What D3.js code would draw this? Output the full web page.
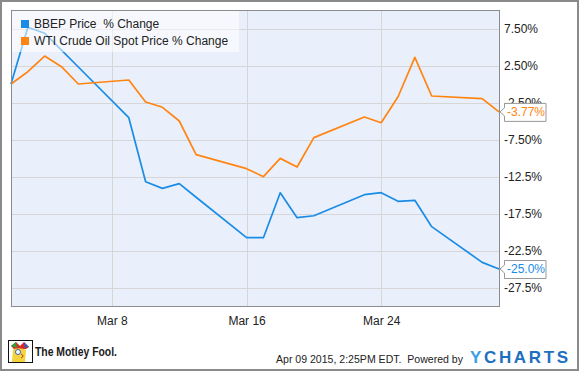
<!DOCTYPE html>
<html><head><meta charset="utf-8">
<script src="https://cdn.jsdelivr.net/npm/d3@7/dist/d3.min.js"></script>
<style>
html,body{margin:0;padding:0;background:#fff;}
svg{display:block;font-family:"Liberation Sans",Arial,sans-serif;}
</style></head>
<body><svg id="chart" width="580" height="371"></svg>
<script>
const dates = ["2015-03-02","2015-03-03","2015-03-04","2015-03-05","2015-03-06",
  "2015-03-09","2015-03-10","2015-03-11","2015-03-12","2015-03-13",
  "2015-03-16","2015-03-17","2015-03-18","2015-03-19","2015-03-20",
  "2015-03-23","2015-03-24","2015-03-25","2015-03-26","2015-03-27",
  "2015-03-30","2015-03-31"];
const bbep = [0, 7.66, 6.85, 4.58, 2.3, -4.55, -13.2, -14.1, -13.47, -15.3,
  -20.77, -20.77, -14.69, -18.07, -17.8, -14.96, -14.69, -15.86, -15.72, -19.28, -24.1, -25.0];
const wti = [0, 1.66, 3.78, 2.34, 0.0, 0.54, -2.43, -3.15, -5.0, -9.55,
  -11.44, -12.52, -10.05, -11.22, -7.25, -4.46, -5.23, -1.72, 3.6, -1.62, -1.98, -3.77];
const seriesNames = ["BBEP Price  % Change", "WTI Crude Oil Spot Price % Change"];
const seriesColors = ["#1a8ce6", "#ff8412"];
const yTicks = [7.5, 2.5, -2.5, -7.5, -12.5, -17.5, -22.5, -27.5];
const yTickLabels = ["7.50%", "2.50%", "-2.50%", "-7.50%", "-12.5%", "-17.5%", "-22.5%", "-27.5%"];
const xTickDates = ["2015-03-08", "2015-03-16", "2015-03-24"];
const xTickLabels = ["Mar 8", "Mar 16", "Mar 24"];
const endLabels = ["-25.0%", "-3.77%"];
const footerText = "Apr 09 2015, 2:25PM EDT.  Powered by";

const parse = d3.utcParse("%Y-%m-%d");
const svg = d3.select("#chart");
const L = 11, R = 499, T = 10, B = 306;

const x = d3.scaleUtc().domain([parse(dates[0]), parse(dates[dates.length-1])]).range([L, R]);
const y = d3.scaleLinear().domain([-30, 10]).range([B, T]);

// outer frame
svg.append("rect").attr("x",1).attr("y",1).attr("width",577).attr("height",369)
  .attr("fill","#fff").attr("stroke","#8a8a8a").attr("stroke-width",2);

// plot bg
svg.append("rect").attr("x",L).attr("y",T).attr("width",R-L).attr("height",B-T).attr("fill","#eaf0fb");

// grid
const gy = svg.append("g").attr("transform",`translate(${L},0)`)
  .call(d3.axisLeft(y).tickValues(yTicks).tickSize(-(R-L)).tickFormat(""));
gy.select(".domain").remove();
gy.selectAll("line").attr("stroke","#d6d6d6").attr("stroke-width",1).attr("shape-rendering","crispEdges");

const xTicks = xTickDates.map(parse);
const gx = svg.append("g").attr("transform",`translate(0,${B})`)
  .call(d3.axisBottom(x).tickValues(xTicks).tickSize(-(B-T)).tickFormat((d,i)=>xTickLabels[i]));
gx.select(".domain").remove();
gx.selectAll("line").attr("stroke","#d6d6d6").attr("shape-rendering","crispEdges");
gx.selectAll("text").attr("fill","#222").attr("font-size","12px")
  .attr("font-family","Liberation Sans, Arial, sans-serif").attr("y",10).attr("dy","0.71em");

// lines
const line = d3.line().x((d,i)=>x(parse(dates[i]))).y(d=>y(d));
[bbep, wti].forEach((s,k)=>{
  svg.append("path").datum(s).attr("d",line).attr("fill","none")
    .attr("stroke",seriesColors[k]).attr("stroke-width",1.7).attr("stroke-linejoin","round");
});

// plot border
svg.append("rect").attr("x",L+0.5).attr("y",T+0.5).attr("width",R-L).attr("height",B-T)
  .attr("fill","none").attr("stroke","#8c8c8c").attr("stroke-width",1);

// y labels
const yAx = svg.append("g").attr("transform",`translate(${R},0)`)
  .call(d3.axisRight(y).tickValues(yTicks).tickSize(0).tickPadding(5).tickFormat((d,i)=>yTickLabels[i]));
yAx.select(".domain").remove();
yAx.selectAll("text").attr("fill","#222").attr("font-size","12px")
  .attr("font-family","Liberation Sans, Arial, sans-serif");

// legend
const leg = svg.append("g");
leg.append("rect").attr("x",L+1).attr("y",T+1).attr("width",227).attr("height",41)
  .attr("fill","#fff").attr("opacity",0.55);
seriesNames.forEach((n,i)=>{
  leg.append("rect").attr("x",21).attr("y",20+i*17).attr("width",8).attr("height",8).attr("fill",seriesColors[i]);
  leg.append("text").attr("x",34).attr("y",28+i*17).attr("font-size","12px").attr("fill","#222")
    .style("white-space","pre").text(n);
});

// end callouts
[bbep, wti].forEach((s,k)=>{
  const yv = y(s[s.length-1]);
  const x0 = R + 1;
  const g = svg.append("g");
  g.append("path").attr("d",`M${x0},${yv} L${x0+4.5},${yv-4} L${x0+4.5},${yv-8.5} L${x0+46},${yv-8.5} L${x0+46},${yv+9.5} L${x0+4.5},${yv+9.5} L${x0+4.5},${yv+4} Z`)
    .attr("fill","#fff").attr("stroke","#999").attr("stroke-width",1);
  g.append("text").attr("x",x0+7).attr("y",yv).attr("dy","0.36em").attr("font-size","12px")
    .attr("fill",seriesColors[k]).text(endLabels[k]);
});

// footer: Motley Fool logo
const logo = svg.append("g").attr("transform","translate(8,340)");
logo.append("rect").attr("x",0.5).attr("y",0.5).attr("width",24).attr("height",22).attr("fill","#fff").attr("stroke","#111");
logo.append("path").attr("d","M3,6 L8,2 L12,6 L16,2 L21,7 L18,9 L6,9 Z").attr("fill","#d92a2a");
logo.append("path").attr("d","M3,6 L8,2 L9,8 Z").attr("fill","#2e9e3b");
logo.append("path").attr("d","M16,2 L21,7 L17,8 Z").attr("fill","#2f5fc8");
logo.append("path").attr("d","M5,9 Q13,7 18,10 L17,22 L4,22 Z").attr("fill","#f5d33a");
logo.append("circle").attr("cx",10).attr("cy",12).attr("r",2.5).attr("fill","#fff").attr("stroke","#2e63c8");
logo.append("path").attr("d","M13,14 Q17,16 13,18").attr("fill","none").attr("stroke","#c0392b");
svg.append("text").attr("x",35).attr("y",355.5).attr("font-size","12px").attr("font-weight","bold")
  .attr("fill","#1a1a1a").attr("textLength",82).attr("lengthAdjust","spacingAndGlyphs").text("The Motley Fool.");

svg.append("text").attr("x",276).attr("y",362.5).attr("font-size","11.5px").attr("fill","#222")
  .style("white-space","pre").attr("textLength",187).attr("lengthAdjust","spacingAndGlyphs").text(footerText);
const yc = svg.append("text").attr("x",470).attr("y",363).attr("font-size","17px").attr("font-weight","bold")
  .attr("textLength",98).attr("lengthAdjust","spacing");
yc.append("tspan").attr("fill","#3a9de6").text("Y");
yc.append("tspan").attr("fill","#1d6fbf").text("CHARTS");
</script></body></html>
